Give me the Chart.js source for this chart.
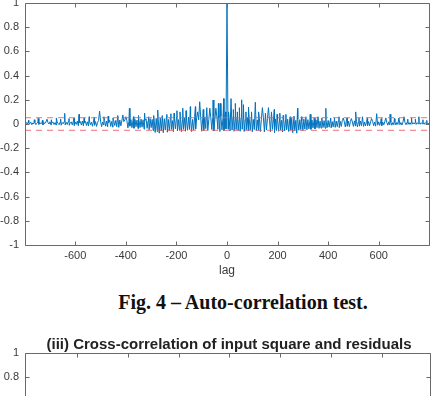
<!DOCTYPE html>
<html><head><meta charset="utf-8">
<script src="https://cdn.jsdelivr.net/npm/chart.js@4/dist/chart.umd.min.js"></script>
<style>
html,body{margin:0;padding:0;background:#fff;width:437px;height:396px;overflow:hidden;position:relative}
#c1{position:absolute;left:0;top:0}
#c2{position:absolute;left:0;top:330px}
#cap{position:absolute;left:0;width:486px;top:290px;text-align:center;font:bold 20px "Liberation Serif","Times New Roman",serif;color:#111;line-height:24px;white-space:nowrap}
#t2{position:absolute;left:0;width:458px;top:335px;text-align:center;font:bold 15px "Liberation Sans",Arial,sans-serif;color:#222;line-height:18px;white-space:nowrap;z-index:2}
</style>
</head><body>
<canvas id="c1" width="437" height="280"></canvas>
<div id="cap">Fig. 4 – Auto-correlation test.</div>
<canvas id="c2" width="437" height="308"></canvas>
<div id="t2">(iii) Cross-correlation of input square and residuals</div>
<script>
// ---- data ----
const xTicks = [-600, -400, -200, 0, 200, 400, 600];
const yTicks = [-1, -0.8, -0.6, -0.4, -0.2, 0, 0.2, 0.4, 0.6, 0.8, 1];
const noiseStartLag = -800;
const noiseStepLag = 4;
const noise = [
  0.008, 0.0, 0.012, -0.004, 0.01, 0.003, 0.015, -0.006, 0.009, 0.002,
  0.013, -0.005, 0.007, 0.016, -0.003, 0.011, 0.001, 0.014, -0.007, 0.01,
  0.004, 0.017, -0.006, 0.012, 0.0, 0.018, -0.008, 0.009, 0.015, -0.004,
  0.012, -0.009, 0.019, 0.003, -0.006, 0.016, -0.01, 0.013, 0.002, 0.02,
  -0.008, 0.014, -0.004, 0.021, -0.011, 0.01, 0.017, -0.007, 0.022, -0.012,
  0.016, -0.003, 0.024, -0.014, 0.011, 0.02, -0.009, 0.025, -0.015, 0.008,
  0.022, -0.012, 0.018, -0.017, 0.027, -0.006, 0.014, -0.019, 0.026, -0.01,
  0.02, -0.02, 0.012, 0.028, -0.016, 0.023, -0.022, 0.017, -0.008, 0.029,
  -0.018, 0.024, -0.024, 0.013, 0.031, -0.02, 0.021, -0.026, 0.027, -0.012,
  0.03, -0.022, 0.018, -0.028, 0.033, -0.015, 0.025, -0.03, 0.02, 0.034,
  -0.026, 0.028, -0.032, 0.022, -0.018, 0.036, -0.03, 0.026, -0.035, 0.038,
  -0.022, 0.032, -0.038, 0.028, -0.03, 0.04, -0.026, 0.035, -0.042, 0.03,
  0.042, -0.036, 0.026, -0.048, 0.044, -0.03, 0.038, -0.055, 0.032, -0.07,
  0.046, -0.062, 0.036, -0.076, 0.048, -0.058, 0.03, -0.072, 0.044, -0.05,
  0.05, -0.068, 0.038, -0.055, 0.052, -0.046, 0.028, -0.064, 0.048, -0.04,
  0.054, -0.058, 0.036, -0.048, 0.056, -0.062, 0.04, -0.044, 0.05, -0.06,
  0.032, -0.052, 0.058, -0.045, 0.046, -0.062, 0.038, -0.05, 0.06, -0.042,
  0.05, -0.058, 0.034, -0.048, 0.056, -0.06, 0.042, -0.052, 0.058, -0.038,
  0.06, -0.054, 0.036, -0.06, 0.052, -0.046, 0.062, -0.058, 0.04, -0.05,
  0.058, -0.044, 0.05, -0.062, 0.064, -0.048, 0.046, -0.056, 0.06, -0.04,
  0.06,
  -0.042, 0.06, -0.058, 0.044, -0.05, 0.062, -0.06, 0.04, -0.046, 0.056,
  -0.054, 0.036, -0.06, 0.052, -0.044, 0.05, -0.062, 0.034, -0.048, 0.058,
  -0.056, 0.042, -0.05, 0.054, -0.064, 0.038, -0.046, 0.05, -0.058, 0.034,
  -0.052, 0.048, -0.062, 0.04, -0.046, 0.052, -0.066, 0.036, -0.05, 0.046,
  -0.058, 0.032, -0.064, 0.048, -0.044, 0.04, -0.07, 0.042, -0.054, 0.036,
  -0.06, 0.046, -0.05, 0.03, -0.066, 0.044, -0.056, 0.038, -0.048, 0.04,
  -0.062, 0.034, -0.05, 0.046, -0.072, 0.038, -0.058, 0.03, -0.076, 0.042,
  -0.052, 0.036, -0.046, 0.028, -0.054, 0.04, -0.042, 0.032, -0.048, 0.036,
  -0.04, 0.03, -0.044, 0.034, -0.032, 0.026, -0.04, 0.035, -0.03, 0.03,
  -0.036, 0.024, -0.034, 0.032, -0.028, 0.028, -0.035, 0.022, -0.03, 0.03,
  -0.026, 0.028, -0.032, 0.02, -0.024, 0.03, -0.028, 0.024, -0.022, 0.026,
  -0.03, 0.022, -0.02, 0.028, -0.026, 0.018, -0.024, 0.026, -0.018, 0.024,
  -0.022, 0.02, -0.026, 0.016, -0.02, 0.026, -0.016, 0.022, -0.024, 0.018,
  -0.018, 0.024, -0.014, 0.02, -0.02, 0.016, -0.016, 0.022, -0.012, 0.02,
  -0.016, 0.018, -0.012, 0.022, -0.014, 0.016, -0.018, 0.02, -0.01, 0.018,
  -0.012, 0.02, -0.014, 0.016, -0.008, 0.018, -0.012, 0.014, -0.01, 0.018,
  -0.008, 0.016, -0.01, 0.012, -0.006, 0.018, -0.008, 0.014, -0.004, 0.016,
  -0.006, 0.012, -0.008, 0.015, -0.002, 0.012, -0.006, 0.014, -0.003, 0.012,
  -0.004, 0.014, -0.002, 0.011, 0.0, 0.013, -0.004, 0.01, 0.002, 0.012,
  -0.002, 0.011, 0.001, 0.01, -0.002, 0.012, 0.002, 0.009, 0.0, 0.011
];
const spikeLags = [
  -785, -762, -747, -730, -712, -695, -675, -658, -642, -625, -605, -585, -565, -545, -525,
  -504, -487, -470, -451, -432, -412, -400, -386, -370, -350, -326, -310, -290, -274, -256,
  -238, -222, -209, -198, -186, -175, -162, -145, -125, -116, -108, -94, -80, -68, -55,
  -44, -34, -26, -13, -6, 0,
  6, 16, 25, 33, 41, 49, 58, 65, 75, 85, 97, 112, 125, 140, 152, 164, 176, 187, 198,
  209, 222, 233, 250, 265, 279, 295, 312, 329, 345, 360, 375, 391, 410, 425, 443, 460,
  475, 492, 509, 522, 536, 555, 572, 592, 610, 628, 645, 662, 680, 700, 715, 730, 745,
  759, 775, 790
];
const spikeVals = [
  0.03, 0.035, 0.047, 0.03, 0.04, 0.035, 0.05, 0.04, 0.088, 0.045, 0.05, 0.08, 0.05, 0.06, 0.055,
  0.107, 0.06, 0.065, 0.05, 0.07, 0.075, 0.06, 0.13, 0.06, 0.07, 0.09, 0.06, 0.07, 0.115, 0.07,
  0.08, 0.085, 0.09, 0.11, 0.1, 0.13, 0.11, 0.143, 0.143, 0.1, 0.184, 0.12, 0.135, 0.13, 0.198,
  0.13, 0.17, 0.17, 0.21, 0.1, 1,
  0.1, 0.21, 0.12, 0.17, 0.1, 0.135, 0.2, 0.16, 0.1, 0.14, 0.1, 0.18, 0.1, 0.135, 0.09, 0.135, 0.1, 0.12, 0.08,
  0.09, 0.07, 0.08, 0.06, 0.065, 0.13, 0.06, 0.06, 0.08, 0.05, 0.06, 0.05, 0.13, 0.05, 0.05, 0.06, 0.05,
  0.05, 0.045, 0.1, 0.05, 0.06, 0.05, 0.045, 0.085, 0.045, 0.05, 0.08, 0.045, 0.05, 0.06, 0.04, 0.05, 0.04,
  0.06, 0.035, 0.03
];
const confBound = 0.052;
const xRange1 = [-799, 799];
const xRange2 = [-805, 790];

// ---- build series ----
const spikeSet = new Set(spikeLags);
const acf = [];
noise.forEach((v, i) => {
  const lag = noiseStartLag + i * noiseStepLag;
  if (!spikeSet.has(lag)) acf.push({x: lag, y: v});
});
spikeLags.forEach((l, i) => acf.push({x: l, y: spikeVals[i]}));
acf.sort((a, b) => a.x - b.x);

const tickFont = {family: '"Liberation Sans", Arial, Helvetica, sans-serif', size: 11};
const tickColor = '#3a3a3a';
const fmt = v => String(Math.round(v * 10) / 10);

const boxPlugin = {
  id: 'matlabBox',
  afterDraw(chart) {
    const {ctx, chartArea: a, scales: {x, y}} = chart;
    ctx.save();
    ctx.strokeStyle = '#6a6a6a';
    ctx.lineWidth = 1;
    ctx.beginPath();
    const L = Math.round(a.left) + 0.5, R = Math.round(a.right) + 0.5;
    const T = Math.round(a.top) + 0.5, B = Math.round(a.bottom) + 0.5;
    ctx.rect(L, T, R - L, B - T);
    x.ticks.forEach(t => {
      const p = Math.round(x.getPixelForValue(t.value)) + 0.5;
      ctx.moveTo(p, B); ctx.lineTo(p, B - 4);
      ctx.moveTo(p, T); ctx.lineTo(p, T + 4);
    });
    y.ticks.forEach(t => {
      const p = Math.round(y.getPixelForValue(t.value)) + 0.5;
      ctx.moveTo(L, p); ctx.lineTo(L + 4, p);
      ctx.moveTo(R, p); ctx.lineTo(R - 4, p);
    });
    ctx.stroke();
    ctx.restore();
  }
};

function scalesFor(xr, xHeight, showTitle) {
  return {
    x: {
      type: 'linear', min: xr[0], max: xr[1],
      afterBuildTicks: s => { s.ticks = xTicks.map(v => ({value: v})); },
      ticks: {font: tickFont, color: tickColor, padding: 4, maxRotation: 0, autoSkip: false, callback: v => String(v)},
      grid: {display: false, drawTicks: false},
      border: {display: false},
      title: {display: showTitle, text: 'lag', font: {family: tickFont.family, size: 12}, color: tickColor, padding: {top: 1, bottom: 0}},
      afterFit: s => { s.height = xHeight; s.paddingLeft = 0; s.paddingRight = 0; }
    },
    y: {
      type: 'linear', min: -1, max: 1,
      afterBuildTicks: s => { s.ticks = yTicks.map(v => ({value: v})); },
      ticks: {font: tickFont, color: tickColor, padding: 6, callback: v => fmt(v)},
      grid: {display: false, drawTicks: false},
      border: {display: false},
      afterFit: s => { s.width = 25; s.paddingTop = 0; s.paddingBottom = 0; }
    }
  };
}

const red = 'rgba(232,90,95,0.85)';
new Chart(document.getElementById('c1'), {
  type: 'line',
  data: {
    datasets: [
      {data: [{x: xRange1[0], y: confBound}, {x: xRange1[1], y: confBound}], borderColor: red, borderDash: [6, 5], borderWidth: 1, pointRadius: 0},
      {data: [{x: xRange1[0], y: -confBound}, {x: xRange1[1], y: -confBound}], borderColor: red, borderDash: [6, 5], borderWidth: 1, pointRadius: 0},
      {data: acf, borderColor: '#0072BD', borderWidth: 1, pointRadius: 0, tension: 0}
    ]
  },
  options: {
    responsive: false, animation: false, events: [],
    plugins: {legend: {display: false}, tooltip: {enabled: false}},
    layout: {padding: {top: 3, right: 8, left: 0, bottom: 2}},
    scales: scalesFor(xRange1, 33, true)
  },
  plugins: [boxPlugin]
});

new Chart(document.getElementById('c2'), {
  type: 'line',
  data: {datasets: [{data: [], borderColor: '#0072BD', borderWidth: 1, pointRadius: 0}]},
  options: {
    responsive: false, animation: false, events: [],
    plugins: {legend: {display: false}, tooltip: {enabled: false}},
    layout: {padding: {top: 23, right: 7, left: 0, bottom: 0}},
    scales: scalesFor(xRange2, 45, false)
  },
  plugins: [boxPlugin]
});
</script>
</body></html>
